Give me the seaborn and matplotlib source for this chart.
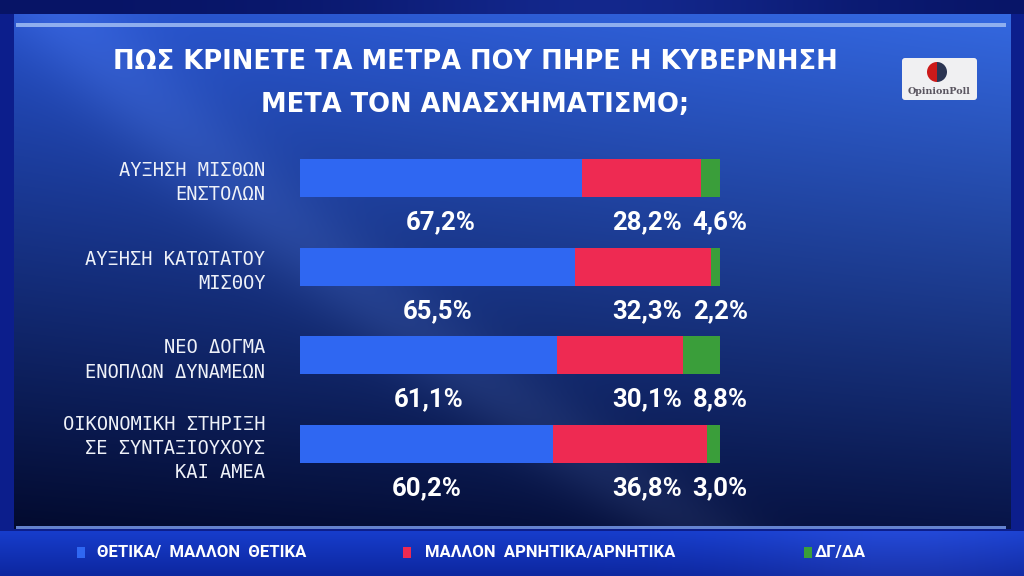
import numpy as np
import pandas as pd
import matplotlib
matplotlib.use("Agg")
import matplotlib.pyplot as plt
import seaborn as sns
from matplotlib.patches import Rectangle, FancyBboxPatch, Wedge
from matplotlib import font_manager as fm

# ---------------- data ----------------
categories = [
    "ΑΥΞΗΣΗ ΜΙΣΘΩΝ\nΕΝΣΤΟΛΩΝ",
    "ΑΥΞΗΣΗ ΚΑΤΩΤΑΤΟΥ\nΜΙΣΘΟΥ",
    "ΝΕΟ ΔΟΓΜΑ\nΕΝΟΠΛΩΝ ΔΥΝΑΜΕΩΝ",
    "ΟΙΚΟΝΟΜΙΚΗ ΣΤΗΡΙΞΗ\nΣΕ ΣΥΝΤΑΞΙΟΥΧΟΥΣ\nΚΑΙ ΑΜΕΑ",
]
positive = [67.2, 65.5, 61.1, 60.2]
negative = [28.2, 32.3, 30.1, 36.8]
dkna = [4.6, 2.2, 8.8, 3.0]
series_names = ["ΘΕΤΙΚΑ/  ΜΑΛΛΟΝ  ΘΕΤΙΚΑ", "ΜΑΛΛΟΝ  ΑΡΝΗΤΙΚΑ/ΑΡΝΗΤΙΚΑ", "ΔΓ/ΔΑ"]
title_lines = ["ΠΩΣ ΚΡΙΝΕΤΕ ΤΑ ΜΕΤΡΑ ΠΟΥ ΠΗΡΕ Η ΚΥΒΕΡΝΗΣΗ",
               "ΜΕΤΑ ΤΟΝ ΑΝΑΣΧΗΜΑΤΙΣΜΟ;"]

BLUE, RED, GREEN = "#2f67f2", "#ee2a52", "#3a9e3a"

df = pd.DataFrame({"cat": categories, "pos": positive, "neg": negative, "dk": dkna})
df["cum2"] = df["pos"] + df["neg"]
df["cum3"] = df["cum2"] + df["dk"]

sns.set_theme(style="white")
names = {f.name for f in fm.fontManager.ttflist}
def pick(cands):
    for c in cands:
        if c in names:
            return c
    return "DejaVu Sans"
F_BOLD = pick(["Roboto", "DejaVu Sans"])
F_MONO = pick(["DejaVu Sans Mono", "Liberation Mono"])
F_SERIF = pick(["DejaVu Serif", "Liberation Serif"])
plt.rcParams["font.family"] = ["DejaVu Sans"]

W, H = 1024, 576
fig = plt.figure(figsize=(W / 100, H / 100), dpi=100)

# ---------------- background ----------------
bg = fig.add_axes([0, 0, 1, 1])
yy, xx = np.mgrid[0:H, 0:W].astype(float)
img = np.zeros((H, W, 3))
img[:] = np.array([0.05, 0.12, 0.55])
t = np.clip(yy / 528.0, 0, 1)[..., None]
top = np.array([0.15, 0.32, 0.80])
bot = np.array([0.03, 0.08, 0.28])
panel = top * (1 - t) + bot * t
rx = (xx / W)[..., None]
panel = panel + np.array([0.06, 0.10, 0.10]) * rx * (1 - t)
panel = panel - np.array([0.02, 0.04, 0.10]) * (1 - rx) * t
# faint light swoosh
cx = 50 + 0.9 * yy + 0.0006 * yy ** 2
d = (xx - cx) / 70.0
sw = np.exp(-d ** 2)[..., None] * 0.07
panel = panel + sw * np.array([0.8, 0.9, 1.0])
mask = (xx >= 14) & (xx <= 1010) & (yy >= 14) & (yy <= 528)
img[mask] = panel[mask]
topmask = yy < 14
img[topmask] = (np.array([0.03, 0.08, 0.40]) + 0.15 * np.exp(-((xx - 600) / 250) ** 2)[..., None] * np.array([0.3, 0.5, 1.0]))[topmask]
lm = yy > 530
tl = ((yy - 530) / 46.0)[..., None]
leg = np.array([0.09, 0.24, 0.80]) * (1 - tl) + np.array([0.05, 0.15, 0.62]) * tl
leg = leg + 0.05 * np.exp(-((xx - 900) / 150) ** 2)[..., None]
img[lm] = leg[lm]
img = np.clip(img, 0, 1)
bg.imshow(img, extent=[0, W, H, 0], aspect="auto", interpolation="bilinear")
bg.set_xlim(0, W)
bg.set_ylim(H, 0)
bg.axis("off")
bg.add_patch(Rectangle((16, 23), 990, 4, color="#9ab8f2", lw=0, alpha=0.9))
bg.add_patch(Rectangle((16, 526), 990, 3, color="#6f90e0", lw=0, alpha=0.9))

# title
bg.text(475, 62, title_lines[0], color="white", fontsize=18.5, fontweight="bold",
        family="DejaVu Sans", ha="center", va="center")
bg.text(475, 105, title_lines[1], color="white", fontsize=18.5, fontweight="bold",
        family="DejaVu Sans", ha="center", va="center")

# logo
bg.add_patch(FancyBboxPatch((902, 58), 75, 42, boxstyle="round,pad=0,rounding_size=3",
                            facecolor="#f0f0f2", edgecolor="none"))
bg.add_patch(Wedge((937, 72), 10, 90, 270, facecolor="#cc1a1a", edgecolor="none"))
bg.add_patch(Wedge((937, 72), 10, 270, 90, facecolor="#2c3552", edgecolor="none"))
bg.text(939.5, 92, "OpinionPoll", family=F_SERIF, fontsize=6.8, fontweight="bold",
        color="#5a5560", ha="center", va="center")

# legend
leg_items = [(77, 97, BLUE), (403, 425, RED), (804, 815, GREEN)]
for (sx, tx, col), name in zip(leg_items, series_names):
    bg.add_patch(Rectangle((sx, 547), 8, 11, color=col, lw=0))
    bg.text(tx, 553, name, color="white", fontsize=12, fontweight="bold",
            family=F_BOLD, ha="left", va="center")

# ---------------- bars ----------------
ax = fig.add_axes([300 / W, 1 - 488 / H, 420 / W, 354 / H])
ax.patch.set_alpha(0)
sns.barplot(data=df, x="cum3", y="cat", color=GREEN, saturation=1, width=0.43,
            orient="h", ax=ax, linewidth=0)
sns.barplot(data=df, x="cum2", y="cat", color=RED, saturation=1, width=0.43,
            orient="h", ax=ax, linewidth=0)
sns.barplot(data=df, x="pos", y="cat", color=BLUE, saturation=1, width=0.43,
            orient="h", ax=ax, linewidth=0)
ax.set_xlim(0, 100)
ax.set_ylim(3.5, -0.5)
ax.set_xlabel("")
ax.set_ylabel("")
ax.set_xticks([])
for s in ax.spines.values():
    s.set_visible(False)
ax.tick_params(axis="y", length=0, pad=25)
for lab in ax.get_yticklabels():
    lab.set_fontfamily(F_MONO)
    lab.set_fontsize(13.5)
    lab.set_color("#eef1f8")
    lab.set_linespacing(1.35)
    lab.set_multialignment("right")

def fmt(v):
    return f"{v:.1f}%".replace(".", ",")

for i, r in df.iterrows():
    kw = dict(color="white", fontsize=18.5, fontweight="bold", family=F_BOLD, va="center")
    ax.text(r["pos"] / 2, i + 0.5, fmt(r["pos"]), ha="center", **kw)
    ax.text(r["cum3"] - 9, i + 0.5, fmt(r["neg"]), ha="right", **kw)
    ax.text(r["cum3"] - 6.5, i + 0.5, fmt(r["dk"]), ha="left", **kw)

fig.savefig("out.png", dpi=100)
